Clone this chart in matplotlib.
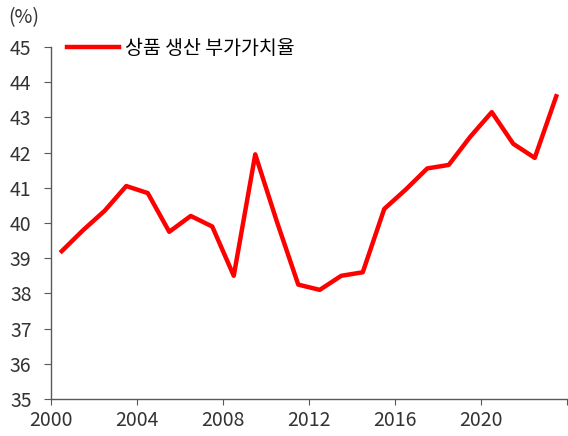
import matplotlib
matplotlib.use("Agg")
import matplotlib.pyplot as plt
import numpy as np

plt.rcParams['font.family'] = ['Noto Sans CJK KR', 'DejaVu Sans']

# 상품 생산 부가가치율 (%)
years = list(range(2000, 2024))
values = [39.2, 39.8, 40.35, 41.05, 40.85, 39.75, 40.2, 39.9, 38.5, 41.95,
          40.05, 38.25, 38.1, 38.5, 38.6, 40.4, 40.95, 41.55, 41.65, 42.45,
          43.15, 42.25, 41.85, 43.6]
x_ticks = [2000, 2004, 2008, 2012, 2016, 2020, 2024]
x_labels = ['2000', '2004', '2008', '2012', '2016', '2020', '']
y_ticks = list(range(35, 46))

fig = plt.figure(figsize=(5.68, 4.36), dpi=100)
ax = fig.add_axes([51 / 568, 1 - 399 / 436, 516 / 568, 352 / 436])

# 카테고리 중앙에 점 찍기
xs = np.array(years) + 0.5
ax.plot(xs, values, color='#ff0000', lw=3.2, label='상품 생산 부가가치율')

ax.set_xlim(2000, 2024)
ax.set_ylim(35, 45)
ax.set_xticks(x_ticks)
ax.set_xticklabels(x_labels)
ax.set_yticks(y_ticks)

for s in ['top', 'right']:
    ax.spines[s].set_visible(False)
for s in ['left', 'bottom']:
    ax.spines[s].set_color('#595959')
    ax.spines[s].set_linewidth(1.0)

ax.tick_params(axis='y', length=5, color='#595959', labelsize=14, labelcolor='#333333', pad=9)
ax.tick_params(axis='x', length=4, color='#595959', labelsize=14, labelcolor='#333333', pad=4)

ax.text(-0.083, 1.055, '(%)', transform=ax.transAxes, fontsize=14, color='#333333', ha='left', va='bottom')

ax.legend(loc='center left', bbox_to_anchor=(0.031, 0.997), frameon=False, fontsize=14,
          handlelength=2.7, handletextpad=0.3, borderaxespad=0.0, borderpad=0.0)

fig.savefig('out.png', dpi=100)
